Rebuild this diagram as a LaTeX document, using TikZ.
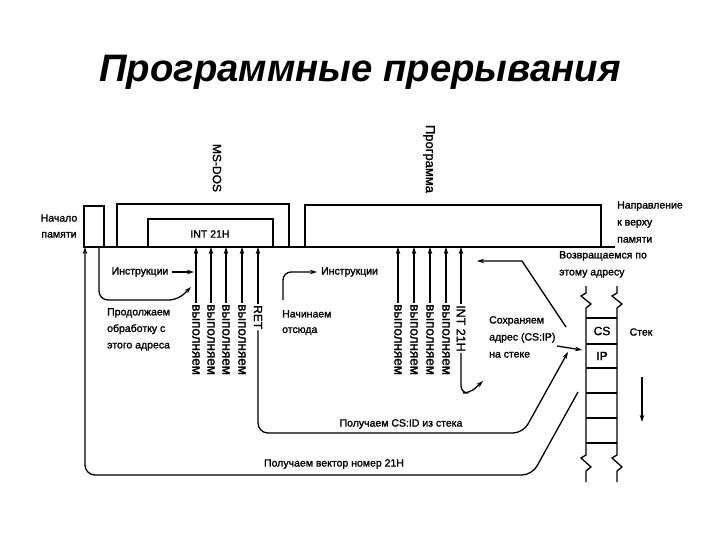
\documentclass[tikz,border=0pt]{standalone}
\usepackage{fontspec}
\setmainfont{Liberation Sans}
\newfontfamily\df[FakeBold=1.5]{Liberation Sans}
\newfontfamily\tf{Liberation Sans}
\usetikzlibrary{arrows.meta}
\begin{document}
\begin{tikzpicture}[x=1pt,y=-1pt,
  ln/.style={line width=1.3pt,black},
  arr/.style={ln,-{Stealth[length=7pt,width=4.5pt]}},
  txt/.style={font=\df\fontsize{10.5}{16}\selectfont,inner sep=1pt},
  vtxt/.style={font=\df\fontsize{13.5}{16}\selectfont,inner sep=1pt,rotate=-90,anchor=west},
  cell/.style={inner sep=0pt,font=\df\fontsize{12}{14}\selectfont}]
\useasboundingbox (0,0) rectangle (720,540);
\fill[white] (0,0) rectangle (720,540);
% title
\node[anchor=base,font=\tf\bfseries\itshape\fontsize{38.3}{44}\selectfont] (title) at (360,82) {Программные прерывания};
% memory line and blocks
\coordinate (mL) at (83,247);
\coordinate (mR) at (615,247);
\draw[ln] (mL) -- (mR);
\draw[ln] (84,247) |- (104,206) -- (104,247);
\draw[ln] (117,247) |- (289,204) -- (289,247);
\draw[ln] (148,247) |- (273,219) -- (273,247);
\draw[ln] (305,247) |- (601,205) -- (601,247);
\node[txt] (int) at (210,234) {INT 21H};
\node[font=\df\fontsize{12}{14}\selectfont,rotate=-90,inner sep=1pt] (msdos) at (217,168) {MS-DOS};
\node[font=\df\fontsize{13}{14}\selectfont,rotate=-90,inner sep=1pt] (prog) at (429,159) {Программа};
\node[txt,align=center] (start) at (59,226) {Начало\\памяти};
\node[txt,align=left,anchor=west,font=\df\fontsize{10.5}{17}\selectfont] (dir) at (616,222) {Направление\\к верху\\памяти};
% left group
\node[txt] (instr1) at (140,272) {Инструкции};
\coordinate (i1e) at (194,272);
\draw[arr] (instr1.east) ++(2,0) -- (i1e);
\node[txt,align=left,anchor=north west,font=\df\fontsize{10.5}{16.5}\selectfont] (cont) at (106,307) {Продолжаем\\обработку с\\этого адреса};
\coordinate (c0) at (99,247);
\coordinate (c1) at (191,287);
\draw[arr,rounded corners=9pt] (c0) -- (99,300) -- (178,300) -- (c1);
\foreach \x/\n in {196/a1,211/a2,226/a3,242/a4}{
  \node[vtxt] (\n) at (\x,303) {выполняем};
  \coordinate (\n t) at (\x,247);
  \draw[arr] (\n.west) -- (\n t);
}
\node[vtxt,font=\df\fontsize{12}{14}\selectfont] (ret) at (258,304) {RET};
\coordinate (rett) at (258,247);
\draw[arr] (ret.west) -- (rett);
% right group
\node[txt,align=left,anchor=north west,font=\df\fontsize{10.5}{15.5}\selectfont] (here) at (281,309) {Начинаем\\отсюда};
\coordinate (h0) at (283,300);
\coordinate (h1) at (317,272);
\draw[arr,rounded corners=8pt] (h0) |- (h1);
\node[txt,anchor=west] (instr2) at (320,272) {Инструкции};
\foreach \x/\n in {398/b1,414/b2,430/b3,446/b4}{
  \node[vtxt] (\n) at (\x,303) {выполняем};
  \coordinate (\n t) at (\x,247);
  \draw[arr] (\n.west) -- (\n t);
}
\node[vtxt,font=\df\fontsize{12.5}{14}\selectfont] (int2) at (461,304) {INT 21H};
\coordinate (int2t) at (461,247);
\draw[arr] (int2.west) -- (int2t);
\coordinate (int2e) at (483,381);
\draw[arr,rounded corners=7pt] (int2.east) -- (461,393) -- (470,393) -- (int2e);
% return address
\node[txt,align=left,anchor=north west,font=\df\fontsize{10.5}{17}\selectfont] (ret2) at (558,250) {Возвращаемся по\\этому адресу};
\coordinate (r0) at (566,327);
\coordinate (r1) at (477,261);
\draw[arr] (r0) -- (522,261) -- (r1);
\node[txt,align=left,anchor=north west,font=\df\fontsize{10.5}{17}\selectfont] (save) at (488,315) {Сохраняем\\адрес (CS:IP)\\на стеке};
\coordinate (s0) at (557,346);
\coordinate (s1) at (582,350);
\draw[arr] (s0) -- (s1);
% stack
\draw[ln] (586,286) -- (586,293) -- (581,296) -- (591,304) -- (586,308) -- (586,455) -- (581,458) -- (591,467) -- (586,471) -- (586,482);
\draw[ln] (617,286) -- (617,293) -- (612,296) -- (622,304) -- (617,308) -- (617,455) -- (612,458) -- (622,467) -- (617,471) -- (617,482);
\foreach \y in {318,344,368,393,418,443}{\draw[ln] (586,\y) -- (617,\y);}
\node[cell] (cs) at (602,331) {CS};
\node[cell] (ip) at (602,356) {IP};
\node[txt] (stek) at (641,332) {Стек};
\coordinate (st0) at (642,377);
\coordinate (st1) at (642,422);
\draw[arr] (st0) -- (st1);
% CS:ID from stack
\coordinate (g1) at (568,352);
\draw[arr,rounded corners=10pt] (ret.east) -- (258,433) -- (523,433) -- (g1);
\node[txt] (getcs) at (401,424) {Получаем CS:ID из стека};
% vector
\coordinate (v0) at (578,392);
\coordinate (v1) at (85,247);
\draw[arr,rounded corners=10pt] (v0) -- (532,475) -- (85,475) -- (v1);
\node[txt] (getv) at (334,464) {Получаем вектор номер 21H};
\end{tikzpicture}
\end{document}
